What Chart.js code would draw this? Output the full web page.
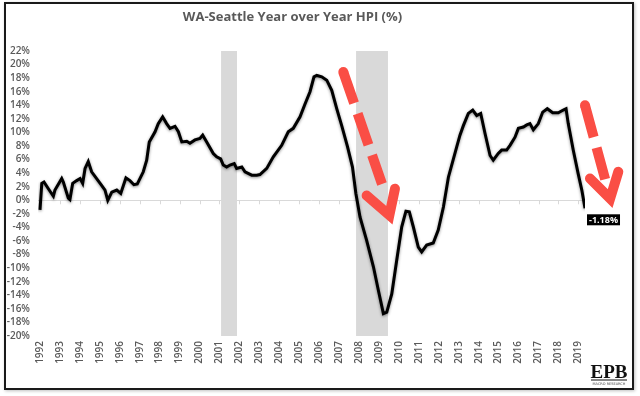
<!DOCTYPE html>
<html>
<head>
<meta charset="utf-8">
<script src="https://cdn.jsdelivr.net/npm/chart.js@4.4.1/dist/chart.umd.min.js"></script>
<style>
  html, body { margin: 0; padding: 0; background: #fff; }
  #wrap { position: relative; width: 640px; height: 396px; }
  #frame { position: absolute; left: 4px; top: 2px; width: 626px; height: 384px; border: 2px solid #1a1a1a; box-shadow: 1px 1px 3px rgba(0,0,0,0.25); pointer-events: none; }
  canvas { position: absolute; left: 0; top: 0; }
</style>
</head>
<body>
<div id="wrap">
  <canvas id="c" width="640" height="396"></canvas>
  <div id="frame"></div>
</div>
<script>
// ---- data ----
const chartTitle = 'WA-Seattle Year over Year HPI (%)';
const yearTicks = [1992,1993,1994,1995,1996,1997,1998,1999,2000,2001,2002,2003,2004,2005,2006,2007,2008,2009,2010,2011,2012,2013,2014,2015,2016,2017,2018,2019];
const hpiDates = [
  1992.00,1992.09,1992.20,1992.42,1992.67,1992.75,1993.09,1993.17,1993.42,1993.50,
  1993.64,1993.84,1994.01,1994.14,1994.26,1994.42,1994.59,1994.84,1995.09,1995.26,
  1995.40,1995.60,1995.85,1996.05,1996.31,1996.51,1996.71,1996.88,1997.18,1997.35,
  1997.48,1997.77,1997.93,1998.15,1998.35,1998.52,1998.77,1998.94,1999.11,1999.36,
  1999.52,1999.77,2000.02,2000.16,2000.36,2000.69,2000.86,2001.06,2001.19,2001.36,
  2001.53,2001.74,2001.86,2002.12,2002.28,2002.62,2002.87,2003.03,2003.37,2003.70,
  2004.12,2004.45,2004.70,2005.04,2005.29,2005.54,2005.74,2005.88,2006.13,2006.38,
  2006.63,2006.88,2007.13,2007.42,2007.67,2007.84,2008.05,2008.38,2008.72,2008.97,
  2009.22,2009.39,2009.64,2009.89,2010.14,2010.35,2010.52,2010.72,2010.97,2011.14,
  2011.39,2011.72,2011.97,2012.23,2012.48,2012.90,2013.06,2013.23,2013.48,2013.70,
  2013.90,2014.10,2014.32,2014.57,2014.73,2014.98,2015.15,2015.40,2015.57,2015.82,
  2015.99,2016.24,2016.41,2016.57,2016.74,2016.99,2017.21,2017.44,2017.71,2017.99,
  2018.24,2018.38,2018.49,2018.74,2018.99,2019.17,2019.33
];
const hpiValues = [
  -1.4,2.5,2.7,1.7,0.6,1.5,3.2,2.7,0.3,0.1,
  2.5,2.9,3.2,2.5,4.7,5.7,4.2,3.2,2.2,1.5,
  0.0,1.2,1.5,1.0,3.3,2.9,2.3,2.4,4.2,5.9,
  8.6,10.1,11.3,12.3,11.3,10.6,10.9,10.1,8.6,8.7,
  8.4,8.9,9.1,9.6,8.6,6.9,6.4,6.1,5.2,4.9,
  5.2,5.4,4.7,4.9,4.2,3.7,3.7,3.8,4.7,6.4,
  8.1,10.1,10.6,12.3,14.2,16.0,18.2,18.4,18.2,17.7,
  16.2,13.5,11.0,7.9,4.9,1.0,-2.5,-5.9,-9.8,-13.3,
  -16.7,-16.5,-13.8,-8.8,-3.9,-1.6,-1.7,-3.9,-6.9,-7.6,
  -6.6,-6.3,-4.4,-1.0,3.4,7.9,9.6,11.0,12.8,13.3,
  12.5,12.8,9.8,6.6,5.9,6.9,7.4,7.4,8.1,9.3,
  10.6,10.8,11.1,11.3,10.4,11.3,13.0,13.5,12.9,12.9,
  13.3,13.5,11.3,7.4,3.9,1.5,-1.18
];
const recessionStarts = [2001.08, 2007.85];
const recessionEnds   = [2001.88, 2009.45];
const yMin = -20, yMax = 22, yStep = 2;
// red dashed arrows (year, %): start of shaft, end of shaft, left wing, tip, right wing
const arrowShaftStart = [[2007.21, 18.9], [2019.33, 14.0]];
const arrowShaftEnd   = [[2009.15, 2.4],  [2020.34, 3.1]];
const arrowWingLeft   = [[2008.38, 0.7],  [2019.58, 3.2]];
const arrowTip        = [[2009.52, -2.2], [2020.59, 0.25]];
const arrowWingRight  = [[2009.80, 1.7],  [2021.00, 4.2]];

// ---- build datasets ----
const hpiPoints = hpiDates.map((d, i) => ({ x: d, y: hpiValues[i] }));
const recessionSets = recessionStarts.map((s, i) => ({
  type: 'line',
  data: [{ x: s, y: yMax }, { x: recessionEnds[i], y: yMax }],
  borderWidth: 0,
  borderColor: 'rgba(0,0,0,0)',
  backgroundColor: '#d9d9d9',
  pointRadius: 0,
  fill: { value: yMin },
  order: 2
}));

const extras = {
  id: 'extras',
  beforeDatasetDraw(chart, args) {
    if (args.index === 0) {
      const ctx = chart.ctx;
      ctx.save();
      ctx.shadowColor = 'rgba(0,0,0,0.45)';
      ctx.shadowBlur = 3;
      ctx.shadowOffsetX = 0; ctx.shadowOffsetY = 1;
    }
  },
  afterDatasetDraw(chart, args) {
    if (args.index === 0) chart.ctx.restore();
  },
  beforeDatasetsDraw(chart) {
    const { ctx, scales: { x, y } } = chart;
    const y0 = y.getPixelForValue(0);
    ctx.save();
    ctx.strokeStyle = '#d9d9d9';
    ctx.lineWidth = 1;
    yearTicks.forEach(v => {
      const px = Math.round(x.getPixelForValue(v)) + 0.5;
      ctx.beginPath(); ctx.moveTo(px, y0); ctx.lineTo(px, y0 + 4); ctx.stroke();
    });
    ctx.restore();
  },
  afterDraw(chart) {
    const { ctx, scales: { x, y } } = chart;
    const P = p => [x.getPixelForValue(p[0]), y.getPixelForValue(p[1])];
    ctx.save();
    ctx.strokeStyle = '#fa4e45';
    ctx.fillStyle = '#fa4e45';
    arrowShaftStart.forEach((s, i) => {
      const a = P(s), b = P(arrowShaftEnd[i]);
      // rounded top of the first dash
      ctx.beginPath(); ctx.arc(a[0], a[1], 5, 0, Math.PI * 2); ctx.fill();
      ctx.lineWidth = 10;
      ctx.lineCap = 'butt';
      ctx.setLineDash([33, 11]);
      ctx.beginPath(); ctx.moveTo(a[0], a[1]); ctx.lineTo(b[0], b[1]); ctx.stroke();
      ctx.setLineDash([]);
      const l = P(arrowWingLeft[i]), t = P(arrowTip[i]), r = P(arrowWingRight[i]);
      ctx.lineWidth = 10;
      ctx.lineJoin = 'miter';
      ctx.miterLimit = 10;
      ctx.lineCap = 'round';
      ctx.beginPath(); ctx.moveTo(l[0], l[1]); ctx.lineTo(t[0], t[1]); ctx.lineTo(r[0], r[1]); ctx.stroke();
    });
    ctx.restore();

    // last value label
    const n = hpiDates.length - 1;
    const lx = x.getPixelForValue(hpiDates[n]);
    const ly = y.getPixelForValue(hpiValues[n]);
    const txt = hpiValues[n].toFixed(2) + '%';
    ctx.save();
    ctx.font = 'bold 9px "Open Sans", sans-serif';
    const w = ctx.measureText(txt).width + 4;
    ctx.fillStyle = '#000';
    ctx.fillRect(lx + 2, ly + 6, w, 11);
    ctx.fillStyle = '#fff';
    ctx.textAlign = 'center';
    ctx.textBaseline = 'middle';
    ctx.fillText(txt, lx + 2 + w / 2, ly + 11.8);
    ctx.restore();

    // EPB logo
    ctx.save();
    ctx.fillStyle = '#111';
    ctx.font = 'bold 19px "Liberation Serif", "DejaVu Serif", serif';
    ctx.textAlign = 'center';
    ctx.textBaseline = 'alphabetic';
    ctx.fillText('EPB', 609, 378);
    ctx.fillRect(591, 379.5, 36, 1);
    ctx.font = '3.5px "DejaVu Sans", sans-serif';
    ctx.fillStyle = '#444';
    ctx.fillText('MACRO RESEARCH', 609, 384.5);
    ctx.restore();
  }
};

new Chart(document.getElementById('c'), {
  type: 'line',
  data: {
    datasets: [
      {
        data: hpiPoints,
        borderColor: '#000',
        borderWidth: 3,
        pointRadius: 0,
        tension: 0,
        fill: false,
        order: 0
      },
      ...recessionSets
    ]
  },
  options: {
    responsive: false,
    animation: false,
    devicePixelRatio: 1,
    layout: { padding: { left: 0, right: 55, top: 0, bottom: 20 } },
    plugins: {
      legend: { display: false },
      tooltip: { enabled: false },
      title: {
        display: true,
        text: chartTitle,
        color: '#595959',
        font: { family: '"Open Sans", sans-serif', size: 13, weight: 'bold' },
        padding: { top: 9, bottom: 26.4 }
      }
    },
    scales: {
      x: {
        type: 'linear',
        min: 1991.9,
        max: hpiDates[hpiDates.length - 1],
        afterBuildTicks: s => { s.ticks = yearTicks.map(v => ({ value: v })); },
        afterFit: s => { s.height = 40; },
        grid: { display: false, drawTicks: false },
        border: { display: false },
        ticks: {
          autoSkip: false,
          minRotation: 90,
          maxRotation: 90,
          padding: 5,
          color: '#595959',
          font: { family: '"Open Sans", sans-serif', size: 10, weight: '600' },
          callback: v => String(v)
        }
      },
      y: {
        min: yMin,
        max: yMax,
        afterFit: s => { s.width = 38; },
        grid: {
          drawTicks: false,
          color: c => (c.tick && c.tick.value === 0 ? '#d9d9d9' : 'rgba(0,0,0,0)'),
          lineWidth: 1
        },
        border: { display: false },
        ticks: {
          stepSize: yStep,
          autoSkip: false,
          padding: 8,
          color: '#595959',
          font: { family: '"Open Sans", sans-serif', size: 10, weight: '600' },
          callback: v => v + '%'
        }
      }
    }
  },
  plugins: [extras]
});
</script>
</body>
</html>
